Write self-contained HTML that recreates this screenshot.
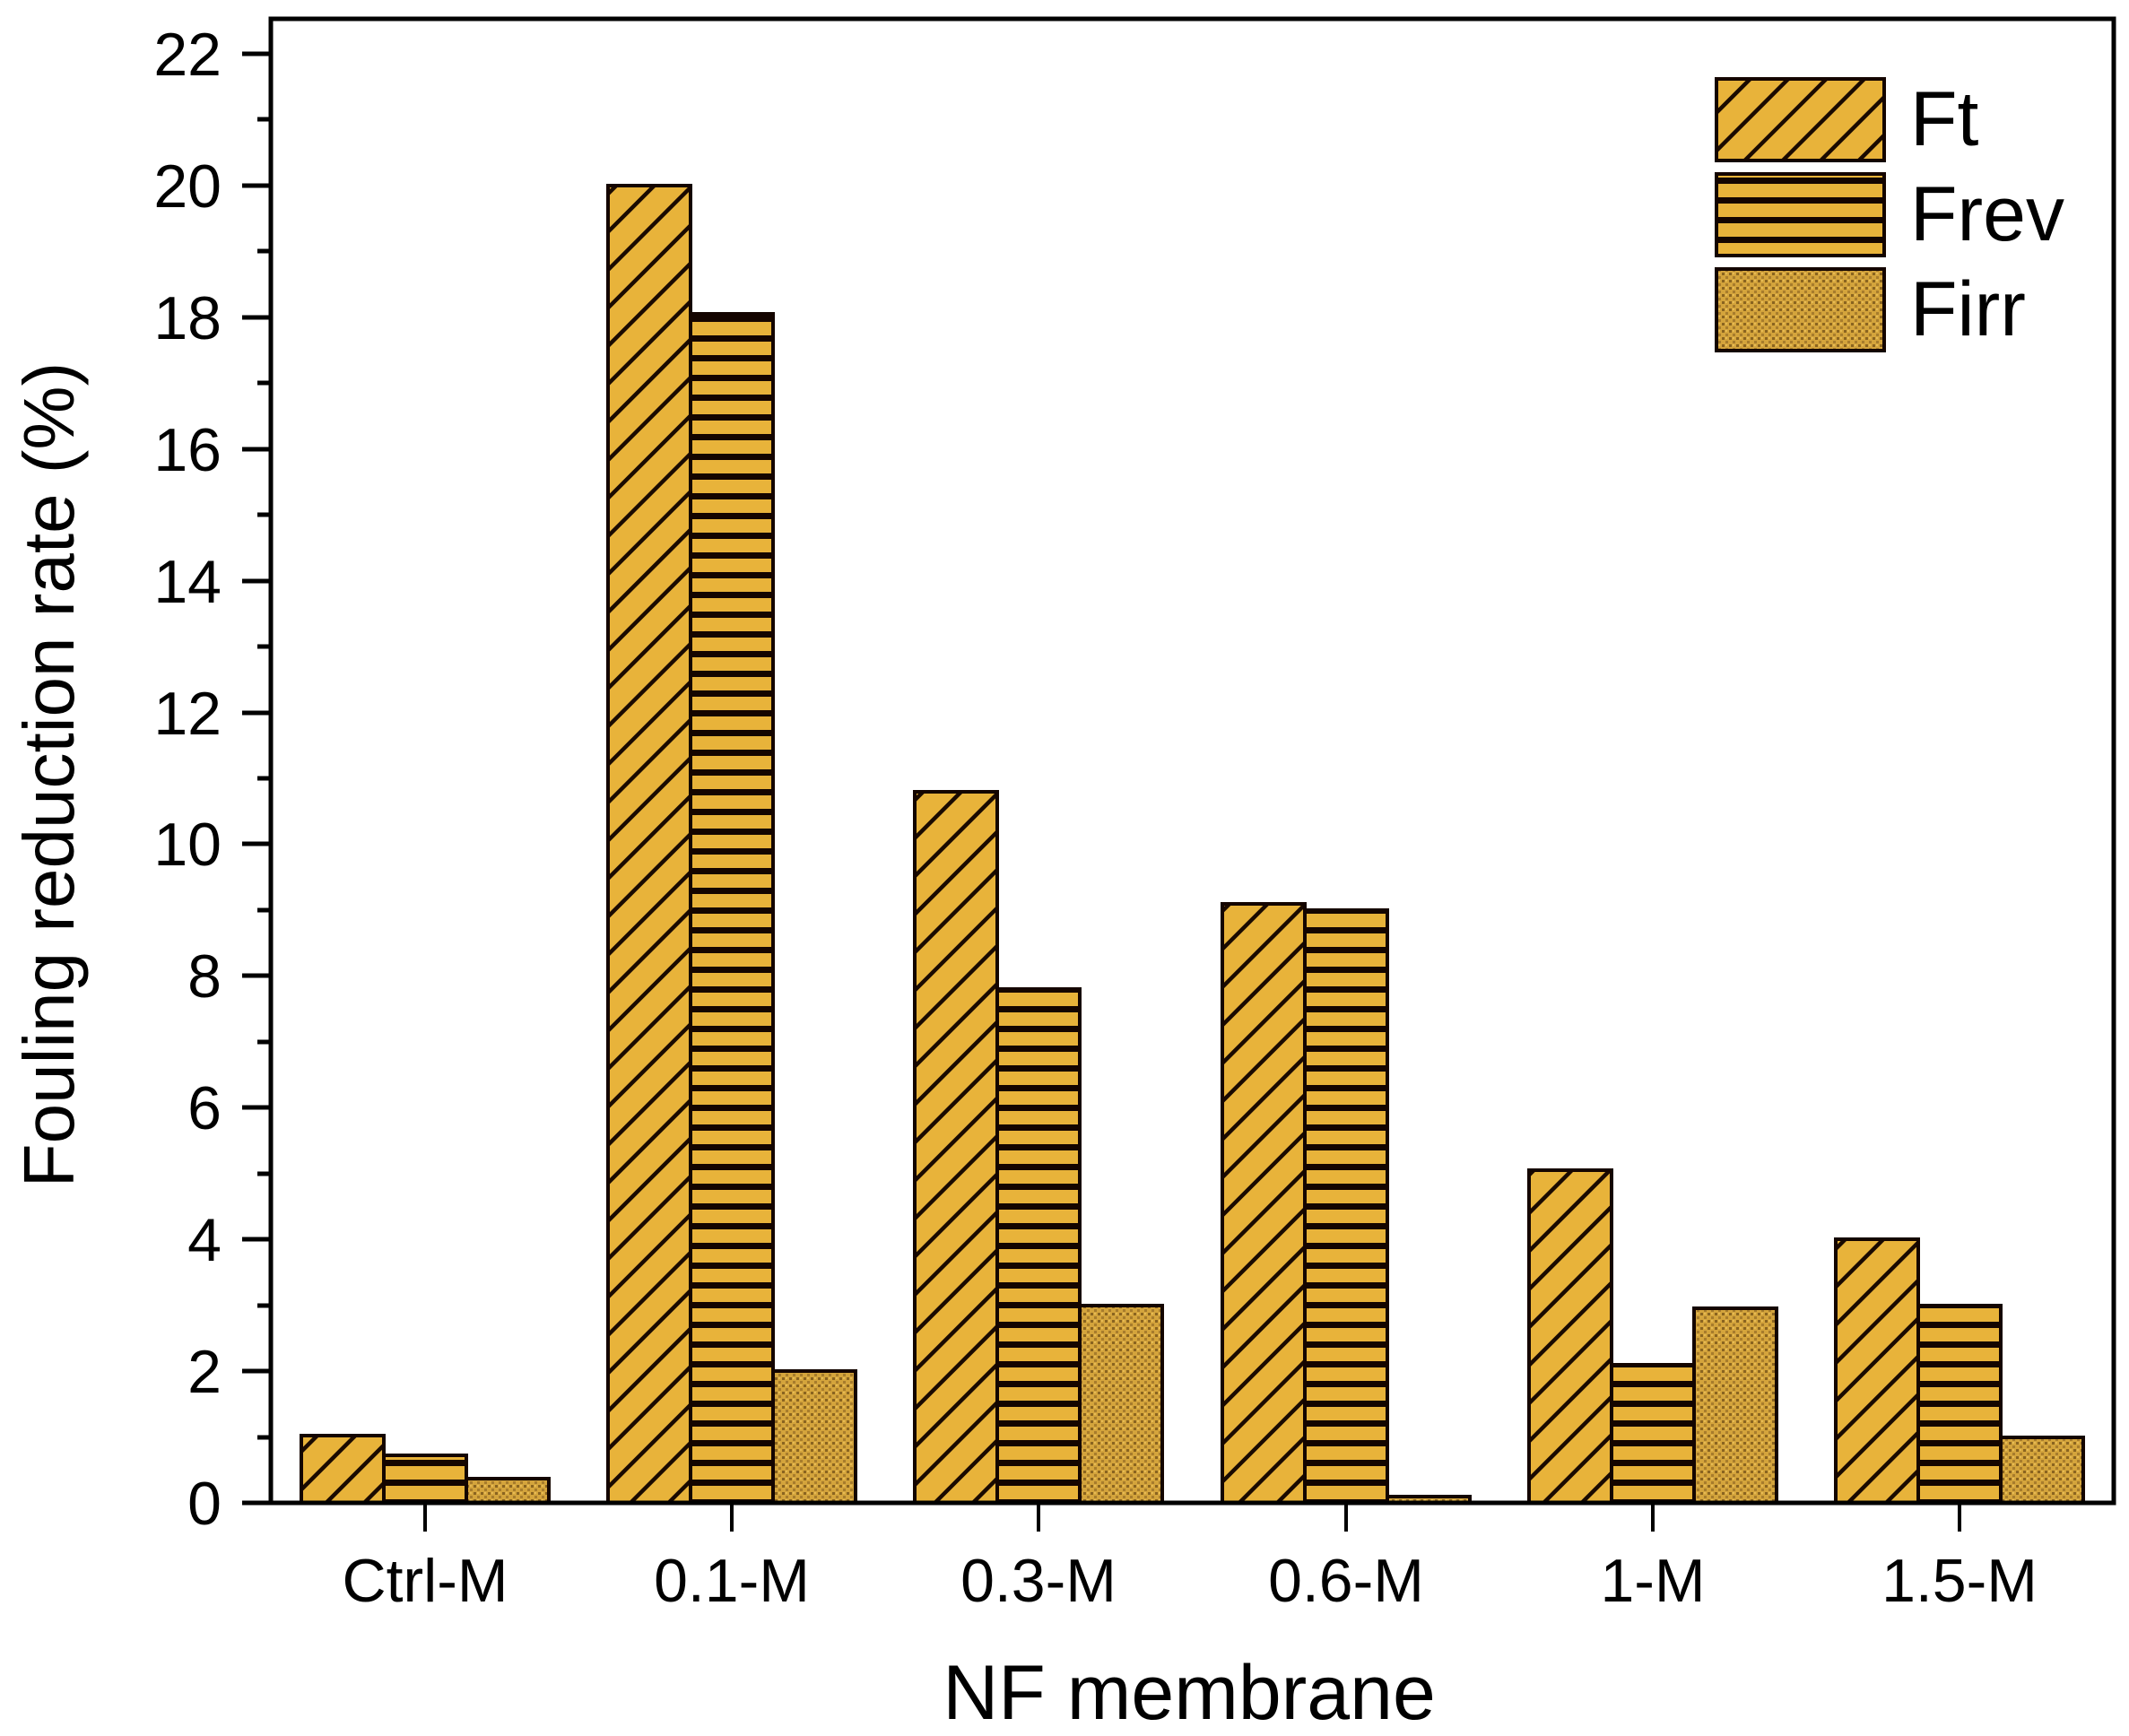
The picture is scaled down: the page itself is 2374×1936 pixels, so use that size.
<!DOCTYPE html>
<html><head><meta charset="utf-8"><style>
html,body{margin:0;padding:0;background:#fff}
svg{display:block}
text{font-family:"Liberation Sans",Arial,sans-serif;fill:#000}
</style></head><body>
<svg width="2374" height="1936" viewBox="0 0 2374 1936" xmlns="http://www.w3.org/2000/svg">
<defs>
<pattern id="diag" patternUnits="userSpaceOnUse" width="30" height="30" patternTransform="rotate(45)">
<rect width="30" height="30" fill="#E8B33A"/>
<rect x="0" y="0" width="4.5" height="30" fill="#1a0a00"/>
</pattern>
<pattern id="hstr" patternUnits="userSpaceOnUse" width="22" height="22" y="0">
<rect width="22" height="22" fill="#E8B33A"/>
<rect x="0" y="0" width="22" height="7" fill="#140500"/>
</pattern>
<pattern id="dots" patternUnits="userSpaceOnUse" width="8" height="8">
<rect width="8" height="8" fill="#D4A43C"/>
<rect x="0" y="0" width="3" height="3" fill="#8a6420"/>
<rect x="4" y="4" width="3" height="3" fill="#a77c2c"/>
<rect x="4" y="0" width="2" height="2" fill="#e6bb55"/>
</pattern>
</defs>

<g stroke="#140500" stroke-width="4">
<rect x="336" y="1601" width="92" height="75" fill="url(#diag)"/>
<rect x="428" y="1623" width="92" height="53" fill="url(#hstr)"/>
<rect x="520" y="1649" width="92" height="27" fill="url(#dots)"/>

<rect x="678" y="207" width="92" height="1469" fill="url(#diag)"/>
<rect x="770" y="350" width="92" height="1326" fill="url(#hstr)"/>
<rect x="862" y="1529" width="92" height="147" fill="url(#dots)"/>

<rect x="1020" y="883" width="92" height="793" fill="url(#diag)"/>
<rect x="1112" y="1103" width="92" height="573" fill="url(#hstr)"/>
<rect x="1204" y="1456" width="92" height="220" fill="url(#dots)"/>

<rect x="1363" y="1008" width="92" height="668" fill="url(#diag)"/>
<rect x="1455" y="1015" width="92" height="661" fill="url(#hstr)"/>
<rect x="1547" y="1669" width="92" height="7" fill="url(#dots)"/>

<rect x="1705" y="1305" width="92" height="371" fill="url(#diag)"/>
<rect x="1797" y="1522" width="92" height="154" fill="url(#hstr)"/>
<rect x="1889" y="1459" width="92" height="217" fill="url(#dots)"/>

<rect x="2047" y="1382" width="92" height="294" fill="url(#diag)"/>
<rect x="2139" y="1456" width="92" height="220" fill="url(#hstr)"/>
<rect x="2231" y="1603" width="92" height="73" fill="url(#dots)"/>
</g>

<rect x="302" y="21" width="2055" height="1655" fill="none" stroke="#000" stroke-width="5"/>

<g stroke="#000" stroke-width="5">
<line x1="270" y1="1676" x2="302" y2="1676"/>
<line x1="270" y1="1529" x2="302" y2="1529"/>
<line x1="270" y1="1382" x2="302" y2="1382"/>
<line x1="270" y1="1235" x2="302" y2="1235"/>
<line x1="270" y1="1088" x2="302" y2="1088"/>
<line x1="270" y1="941" x2="302" y2="941"/>
<line x1="270" y1="795" x2="302" y2="795"/>
<line x1="270" y1="648" x2="302" y2="648"/>
<line x1="270" y1="501" x2="302" y2="501"/>
<line x1="270" y1="354" x2="302" y2="354"/>
<line x1="270" y1="207" x2="302" y2="207"/>
<line x1="270" y1="60" x2="302" y2="60"/>
<line x1="287" y1="1603" x2="302" y2="1603"/>
<line x1="287" y1="1456" x2="302" y2="1456"/>
<line x1="287" y1="1309" x2="302" y2="1309"/>
<line x1="287" y1="1162" x2="302" y2="1162"/>
<line x1="287" y1="1015" x2="302" y2="1015"/>
<line x1="287" y1="868" x2="302" y2="868"/>
<line x1="287" y1="721" x2="302" y2="721"/>
<line x1="287" y1="574" x2="302" y2="574"/>
<line x1="287" y1="427" x2="302" y2="427"/>
<line x1="287" y1="280" x2="302" y2="280"/>
<line x1="287" y1="133" x2="302" y2="133"/>
</g>
<g stroke="#000" stroke-width="4">
<line x1="474" y1="1676" x2="474" y2="1708"/>
<line x1="816" y1="1676" x2="816" y2="1708"/>
<line x1="1158" y1="1676" x2="1158" y2="1708"/>
<line x1="1501" y1="1676" x2="1501" y2="1708"/>
<line x1="1843" y1="1676" x2="1843" y2="1708"/>
<line x1="2185" y1="1676" x2="2185" y2="1708"/>
</g>

<g font-size="68" text-anchor="end">
<text x="247" y="1700">0</text>
<text x="247" y="1553">2</text>
<text x="247" y="1406">4</text>
<text x="247" y="1259">6</text>
<text x="247" y="1112">8</text>
<text x="247" y="965">10</text>
<text x="247" y="819">12</text>
<text x="247" y="672">14</text>
<text x="247" y="525">16</text>
<text x="247" y="378">18</text>
<text x="247" y="231">20</text>
<text x="247" y="84">22</text>
</g>
<g font-size="68" text-anchor="middle">
<text x="474" y="1786">Ctrl-M</text>
<text x="816" y="1786">0.1-M</text>
<text x="1158" y="1786">0.3-M</text>
<text x="1501" y="1786">0.6-M</text>
<text x="1843" y="1786">1-M</text>
<text x="2185" y="1786">1.5-M</text>
</g>

<text x="1326" y="1917" font-size="86" text-anchor="middle">NF membrane</text>
<text transform="translate(82,864) rotate(-90)" font-size="80" text-anchor="middle">Fouling reduction rate (%)</text>

<g stroke="#140500" stroke-width="4">
<rect x="1914" y="88" width="187" height="91" fill="url(#diag)"/>
<rect x="1914" y="194" width="187" height="91" fill="url(#hstr)"/>
<rect x="1914" y="300" width="187" height="91" fill="url(#dots)"/>
</g>
<g font-size="86">
<text x="2130" y="162">Ft</text>
<text x="2130" y="268">Frev</text>
<text x="2130" y="374">Firr</text>
</g>
</svg>
</body></html>
